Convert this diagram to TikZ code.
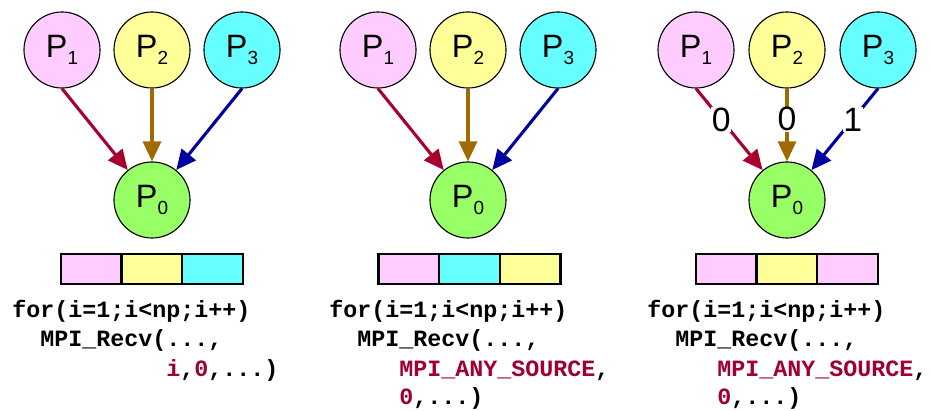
\documentclass[tikz,border=0pt]{standalone}
\usepackage{fontspec}
\setmainfont{Liberation Sans}
\setmonofont{Liberation Mono}
\usetikzlibrary{arrows.meta}

\definecolor{pinkfill}{HTML}{FFCCFF}
\definecolor{yellowfill}{HTML}{FFFF99}
\definecolor{cyanfill}{HTML}{66FFFF}
\definecolor{greenfill}{HTML}{99FF66}
\definecolor{redarrow}{HTML}{A8002E}
\definecolor{brownarrow}{HTML}{A06A00}
\definecolor{bluearrow}{HTML}{0000A0}
\definecolor{codered}{HTML}{A00030}

\newcommand{\proc}[1]{P\raisebox{-5.5pt}{\fontsize{13.5}{13.5}\selectfont #1}}
\newcommand{\hot}[1]{\textcolor{codered}{#1}}

\begin{document}
\begin{tikzpicture}[x=0.025cm, y=-0.025cm,
    proc/.style={circle, draw, line width=0.8pt, minimum size=1.9cm,
                 inner sep=0pt, font=\fontsize{23}{23}\selectfont},
    msg/.style={-{Triangle[length=0.5cm, width=0.45cm]}, line width=2.2pt},
    cell/.style={draw, line width=1.6pt, minimum width=1.52cm,
                 minimum height=0.75cm, inner sep=0pt, outer sep=0pt},
    code/.style={anchor=base west, inner sep=0pt,
                 font=\fontsize{16.6}{16.6}\selectfont\ttfamily\bfseries},
    tag/.style={fill=white, text=black, inner sep=0.5pt,
                font=\fontsize{24}{24}\selectfont}]

    \useasboundingbox (0,0) rectangle (931,411);

    % Panel 1: fixed source
    \node[proc, fill=pinkfill]   (p1a) at (62,50)  {\proc{1}};
    \node[proc, fill=yellowfill] (p2a) at (152,50) {\proc{2}};
    \node[proc, fill=cyanfill]   (p3a) at (242,50) {\proc{3}};
    \node[proc, fill=greenfill]  (p0a) at (152,200) {\proc{0}};

    \draw[msg, redarrow]   (p1a.south) -- (p0a);
    \draw[msg, brownarrow] (p2a.south) -- (p0a.north);
    \draw[msg, bluearrow]  (p3a.south) -- (p0a);

    \node[cell, fill=pinkfill]   (bufa1) at (91.3,269) {};
    \node[cell, fill=yellowfill] (bufa2) at (152,269)  {};
    \node[cell, fill=cyanfill]   (bufa3) at (212.7,269) {};

    \node[code] (cda1) at (12,318)  {for(i=1;i<np;i++)};
    \node[code] (cda2) at (40,347)  {MPI\_Recv(...,};
    \node[code] (cda3) at (166,376) {\hot{i},\hot{0},...)};

    % Panel 2: any source, tag 0
    \node[proc, fill=pinkfill]   (p1b) at (378,50) {\proc{1}};
    \node[proc, fill=yellowfill] (p2b) at (468,50) {\proc{2}};
    \node[proc, fill=cyanfill]   (p3b) at (558,50) {\proc{3}};
    \node[proc, fill=greenfill]  (p0b) at (468,200) {\proc{0}};

    \draw[msg, redarrow]   (p1b.south) -- (p0b);
    \draw[msg, brownarrow] (p2b.south) -- (p0b.north);
    \draw[msg, bluearrow]  (p3b.south) -- (p0b);

    \node[cell, fill=pinkfill]   (bufb1) at (408.8,269) {};
    \node[cell, fill=cyanfill]   (bufb2) at (469.5,269) {};
    \node[cell, fill=yellowfill] (bufb3) at (530.2,269) {};

    \node[code] (cdb1) at (329,318) {for(i=1;i<np;i++)};
    \node[code] (cdb2) at (357,347) {MPI\_Recv(...,};
    \node[code] (cdb3) at (399,376) {\hot{MPI\_ANY\_SOURCE},};
    \node[code] (cdb4) at (399,404) {\hot{0},...)};

    % Panel 3: any source, tags on the messages
    \node[proc, fill=pinkfill]   (p1c) at (696,50) {\proc{1}};
    \node[proc, fill=yellowfill] (p2c) at (787,50) {\proc{2}};
    \node[proc, fill=cyanfill]   (p3c) at (878,50) {\proc{3}};
    \node[proc, fill=greenfill]  (p0c) at (787,200) {\proc{0}};

    \draw[msg, redarrow]   (p1c.south) -- node[tag, pos=0.38] (taga) {0} (p0c);
    \draw[msg, brownarrow] (p2c.south) -- node[tag, pos=0.42] (tagb) {0} (p0c.north);
    \draw[msg, bluearrow]  (p3c.south) -- node[tag, pos=0.38] (tagc) {1} (p0c);

    \node[cell, fill=pinkfill]   (bufc1) at (726.3,269) {};
    \node[cell, fill=yellowfill] (bufc2) at (787,269)   {};
    \node[cell, fill=pinkfill]   (bufc3) at (847.7,269) {};

    \node[code] (cdc1) at (647,318) {for(i=1;i<np;i++)};
    \node[code] (cdc2) at (675,347) {MPI\_Recv(...,};
    \node[code] (cdc3) at (717,376) {\hot{MPI\_ANY\_SOURCE},};
    \node[code] (cdc4) at (717,404) {\hot{0},...)};
\end{tikzpicture}
\end{document}
